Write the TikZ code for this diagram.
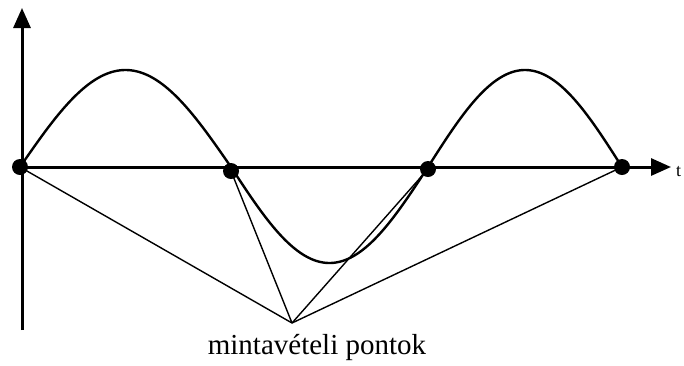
\documentclass[tikz,border=0pt]{standalone}
\usepackage{fontspec}
\setmainfont{Liberation Serif}
\usetikzlibrary{arrows.meta}
\begin{document}
\begin{tikzpicture}[x=1pt,y=-1pt,
  axis/.style={line width=3pt,-{Triangle[length=20pt,width=17pt]}},
  wave/.style={line width=2.4pt},
  ray/.style={line width=1.4pt},
  sample/.style={circle,fill=black,inner sep=0pt,minimum size=16pt}]
\useasboundingbox (0,0) rectangle (684,365);
\coordinate (vb) at (22,330);
\coordinate (vt) at (22,8);
\coordinate (hl) at (18,167);
\coordinate (hr) at (671,167);
\draw[axis] (vb) -- (vt);
\draw[axis] (hl) -- (hr);
\node[anchor=west,inner sep=0pt,font=\fontsize{18}{20}\selectfont] (t) at (676,172) {t};
% sine wave
\draw[wave,domain=0:1,samples=90,variable=\u]
  plot ({20+211*\u},{167-97*sin(180*\u)});
\draw[wave,domain=0:1,samples=90,variable=\u]
  plot ({231+197*\u},{167+96*sin(180*\u)});
\draw[wave,domain=0:1,samples=90,variable=\u]
  plot ({428+194*\u},{167-97*sin(180*\u)});
% sample points
\node[sample] (s1) at (20,167) {};
\node[sample] (s2) at (231,171) {};
\node[sample] (s3) at (428,169) {};
\node[sample] (s4) at (622,167) {};
\coordinate (p) at (292,323);
\draw[ray] (s1.center) -- (p);
\draw[ray] (s2.center) -- (p);
\draw[ray] (s3.center) -- (p);
\draw[ray] (s4.center) -- (p);
\node[font=\fontsize{29}{31}\selectfont,anchor=base,inner sep=0pt] (lbl) at (317,354) {mintavételi pontok};
\end{tikzpicture}
\end{document}
